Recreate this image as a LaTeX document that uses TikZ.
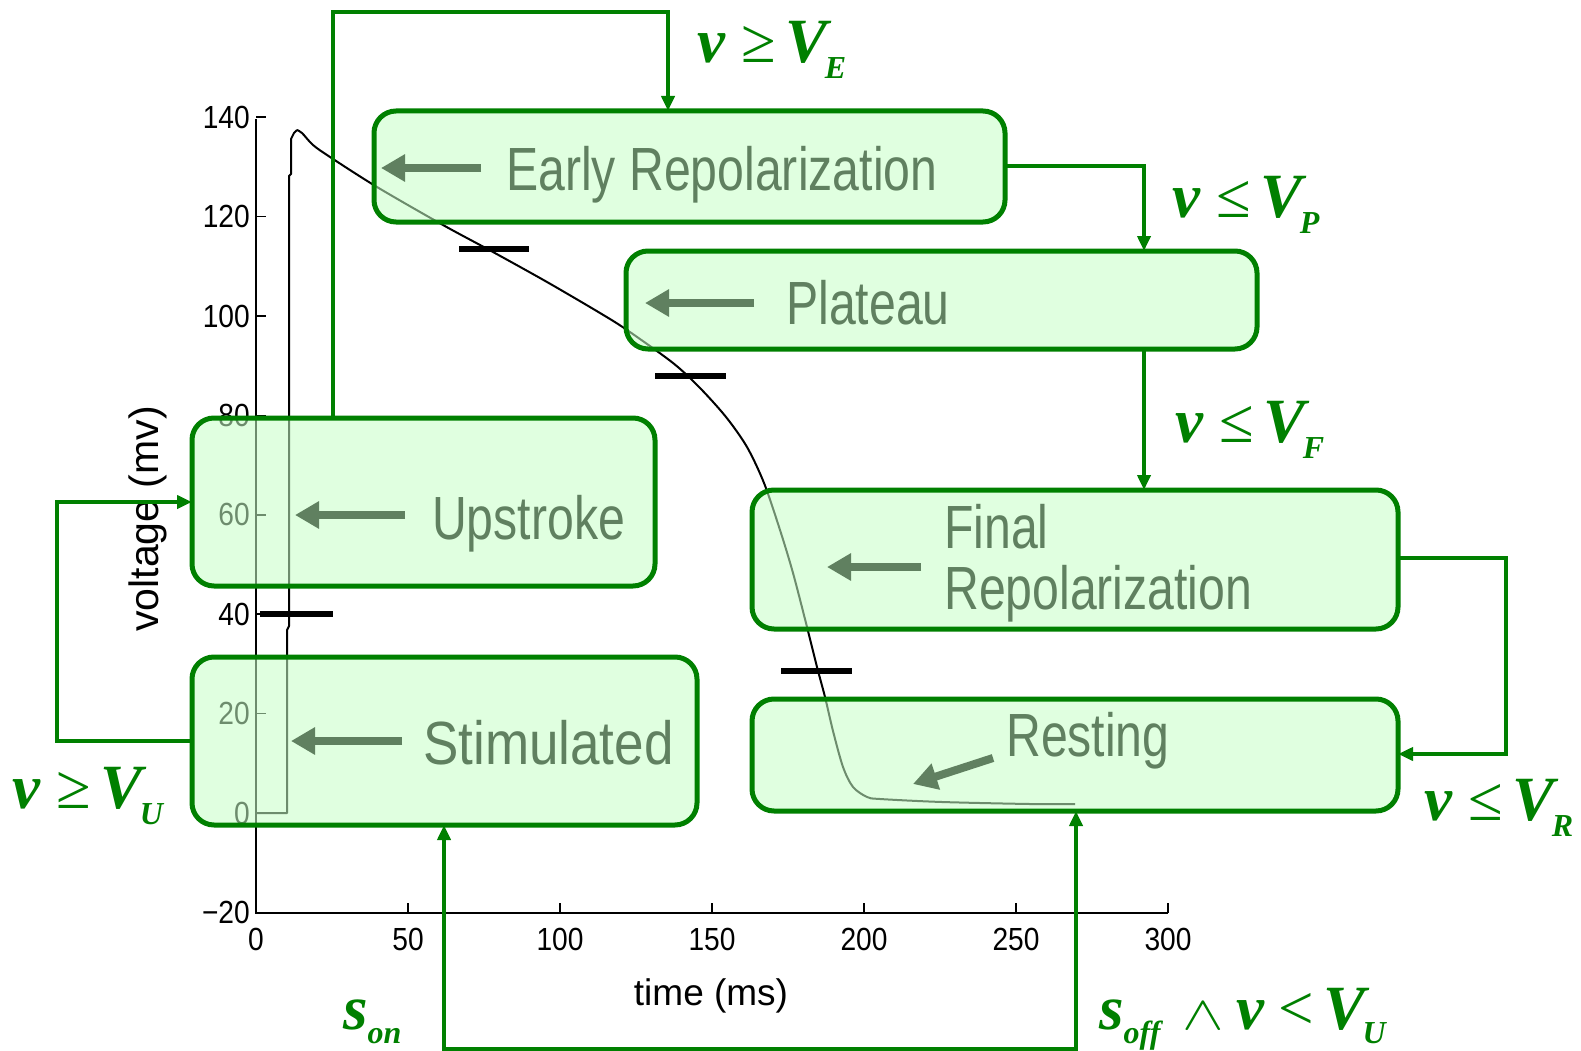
\documentclass[tikz,border=0pt]{standalone}
\usepackage{fix-cm}
\usepackage{fontspec}
\usepackage{graphicx}
\setmainfont{Liberation Sans}
\newfontfamily\narrowsans[FakeStretch=0.79]{Liberation Sans}
\newfontfamily\ticksans[FakeStretch=0.88]{Liberation Sans}
\newfontfamily\tnr{Liberation Serif}
\usetikzlibrary{arrows.meta,calc}
\definecolor{grn}{RGB}{0,128,0}
\definecolor{boxfill}{RGB}{199,255,199}
\definecolor{txtgrn}{RGB}{96,128,96}
\newcommand\bi[1]{{\tnr\bfseries\itshape #1}}
\newcommand\subs[1]{\raisebox{-16pt}{\fontsize{32}{32}\selectfont\bi{#1}}}
\newcommand\subsb[1]{\raisebox{-14pt}{\fontsize{32}{32}\selectfont\bi{#1}}}
\begin{document}
\begin{tikzpicture}[x=1pt,y=-1pt,
  stbox/.style={draw=grn, line width=5pt, rounded corners=22pt, fill=boxfill,
    fill opacity=0.55, draw opacity=1, inner sep=0pt, outer sep=0pt, anchor=north west},
  boxtext/.style={text=txtgrn, inner sep=0pt, anchor=base west,
    font=\narrowsans\fontsize{61}{64}\selectfont},
  inarrow/.style={draw=txtgrn, line width=8pt, -{Triangle[length=24pt,width=26pt]}},
  conn/.style={draw=grn, line width=4pt},
  tip/.style={-{Triangle[length=15pt,width=13pt]}},
  cond/.style={text=grn, inner sep=0pt, anchor=base west, font=\fontsize{63}{70}\selectfont},
  ticklbl/.style={inner sep=0pt, font=\ticksans\fontsize{32}{34}\selectfont},
  axlbl/.style={inner sep=0pt, font=\fontsize{37}{40}\selectfont},
  curve/.style={draw=black, line width=2pt, line join=round},
  bar/.style={draw=black, line width=5.5pt}]
\useasboundingbox (0,0) rectangle (1581,1051);
\fill[white] (0,0) rectangle (1581,1051);

% ---------- plot ----------
\draw[line width=2pt] (256,119) -- (256,913) -- (1168,913);
\foreach \v/\lab in {-20/−20,0/0,20/20,40/40,60/60,80/80,100/100,120/120,140/140}{
  \pgfmathsetmacro{\yy}{813-4.97*\v}
  \draw[line width=1.6pt] (256,\yy) -- (266,\yy);
  \node[ticklbl, anchor=base east] (yl\v) at (250,\yy+11) {\lab};
}
\foreach \t in {0,50,100,150,200,250,300}{
  \pgfmathsetmacro{\xx}{256+3.04*\t}
  \draw[line width=1.6pt] (\xx,913) -- (\xx,903);
  \node[ticklbl, anchor=base] (xl\t) at (\xx,950) {\t};
}
\node[axlbl, rotate=90, font=\fontsize{41}{44}\selectfont] (ylab) at (148,519) {voltage (mv)};
\node[axlbl] (xlab) at (711,996) {time (ms)};

\draw[curve] (256,813) -- (287,813) -- (287,630) -- (289,626) -- (289,176)
  -- (291,174) -- (291,139) -- (294,133) -- (297,130);
\draw[curve] plot[smooth, tension=0.5] coordinates {(297,130) (302,133) (313,145)
  (330,157) (377,187) (443,225) (493,252) (547,282) (600,313) (627,330) (673,363)
  (700,388) (726,417) (747,447) (764,483) (780,530) (793,573) (807,627)
  (817,667) (825,697) (833,731) (843,767) (853,787) (867,797) (880,799) (942,802)
  (1030,804) (1075,804)};

\draw[bar] (260,614) -- (333,614);
\draw[bar] (459,249) -- (529,249);
\draw[bar] (655,376) -- (726,376);
\draw[bar] (781,671) -- (852,671);

% ---------- boxes ----------
\node[stbox, minimum width=631pt, minimum height=111pt] (early) at (374,111) {};
\node[stbox, minimum width=631pt, minimum height=98pt] (plateau) at (626,251) {};
\node[stbox, minimum width=463pt, minimum height=168pt] (upstroke) at (192,418) {};
\node[stbox, minimum width=646pt, minimum height=139pt] (final) at (752,490) {};
\node[stbox, minimum width=505pt, minimum height=168pt] (stim) at (192,657) {};
\node[stbox, minimum width=646pt, minimum height=112pt] (rest) at (752,699) {};

\node[boxtext] (tEarly) at (506,190) {Early Repolarization};
\node[boxtext] (tPlateau) at (786,324) {Plateau};
\node[boxtext] (tUp) at (432,539) {Upstroke};
\node[boxtext] (tFinal) at (944,548) {Final};
\node[boxtext] (tRepol) at (944,609) {Repolarization};
\node[boxtext] (tStim) at (423,764) {\scalebox{1.1}[1]{Stimulated}};
\node[boxtext] (tRest) at (1006,756) {Resting};

\coordinate (a1s) at (481,168); \coordinate (a1e) at (381,168);
\coordinate (a2s) at (754,303); \coordinate (a2e) at (645,303);
\coordinate (a3s) at (405,515); \coordinate (a3e) at (295,515);
\coordinate (a4s) at (921,567); \coordinate (a4e) at (827,567);
\coordinate (a5s) at (402,741); \coordinate (a5e) at (291,741);
\coordinate (a6s) at (993,758); \coordinate (a6e) at (913,784);
\draw[inarrow] (a1s) -- (a1e);
\draw[inarrow] (a2s) -- (a2e);
\draw[inarrow] (a3s) -- (a3e);
\draw[inarrow] (a4s) -- (a4e);
\draw[inarrow] (a5s) -- (a5e);
\draw[inarrow] (a6s) -- (a6e);

% ---------- transitions ----------
\coordinate (ue1) at (333,12); \coordinate (ue2) at (668,12);
\draw[conn, tip] (upstroke.north -| ue1) -- (ue1) -- (ue2) -- (early.north -| ue2);

\coordinate (ep1) at (1144,166);
\draw[conn, tip] (early.east |- ep1) -- (ep1) -- (plateau.north -| ep1);

\draw[conn, tip] (plateau.south -| ep1) -- (final.north -| ep1);

\coordinate (fr1) at (1506,558); \coordinate (fr2) at (1506,754);
\draw[conn, tip] (final.east |- fr1) -- (fr1) -- (fr2) -- (rest.east |- fr2);

\coordinate (su1) at (57,741); \coordinate (su2) at (57,502);
\draw[conn, tip] (stim.west |- su1) -- (su1) -- (su2) -- (upstroke.west |- su2);

\coordinate (sr1) at (444,1049); \coordinate (sr2) at (1076,1049);
\draw[conn, {Triangle[length=15pt,width=13pt]}-{Triangle[length=15pt,width=13pt]}]
  (stim.south -| sr1) -- (sr1) -- (sr2) -- (rest.south -| sr2);

% ---------- conditions ----------
\node[cond] (cE) at (697,63) {\bi{v}\hspace{16pt}{\tnr ≥}\hspace{10pt}\bi{V}\hspace{-3pt}\subs{E}};
\node[cond] (cP) at (1172,218) {\bi{v}\hspace{16pt}{\tnr ≤}\hspace{10pt}\bi{V}\hspace{-3pt}\subs{P}};
\node[cond] (cF) at (1175,442) {\bi{v}\hspace{16pt}{\tnr ≤}\hspace{10pt}\bi{V}\hspace{-3pt}\subs{F}};
\node[cond] (cR) at (1424,820) {\bi{v}\hspace{16pt}{\tnr ≤}\hspace{10pt}\bi{V}\hspace{-3pt}\subs{R}};
\node[cond] (cU) at (12,808) {\bi{v}\hspace{16pt}{\tnr ≥}\hspace{10pt}\bi{V}\hspace{-3pt}\subs{U}};
\node[cond] (cOn) at (343,1029) {\bi{s}\subsb{on}};
\node[cond] (cOff) at (1099,1029) {\bi{s}\subsb{off}\hspace{22pt}\scalebox{1.3}[1]{\fontsize{48}{48}\selectfont$\wedge$}\hspace{12pt}\bi{v}\hspace{14pt}{\tnr <}\hspace{10pt}\bi{V}\hspace{-3pt}\subsb{U}};
\end{tikzpicture}
\end{document}
